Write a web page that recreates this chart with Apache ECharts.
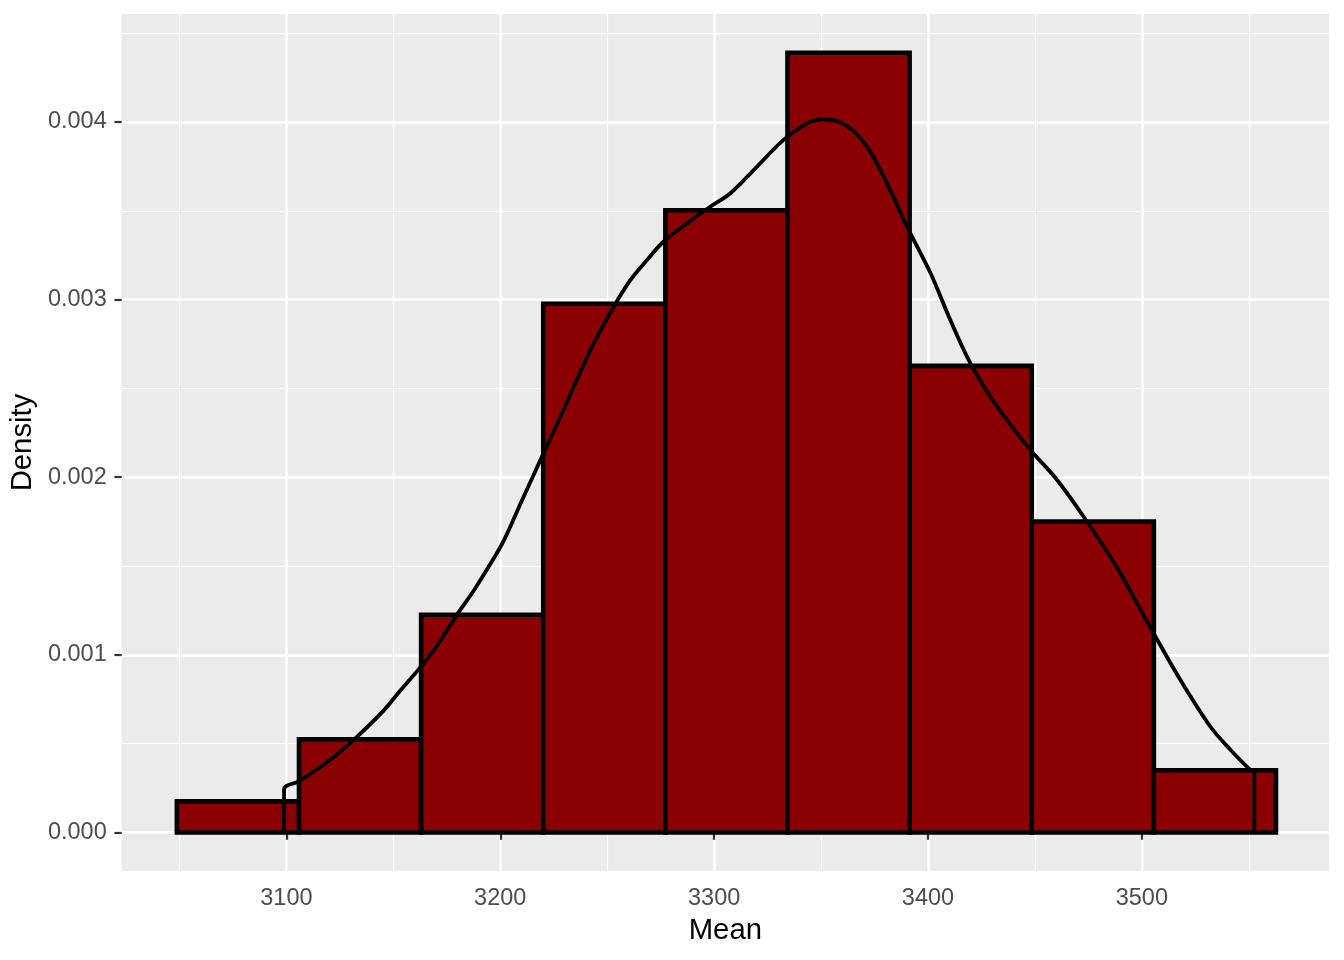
<!DOCTYPE html>
<html>
<head>
<meta charset="utf-8">
<title>Density of Mean</title>
<script src="https://cdn.jsdelivr.net/npm/echarts@6/dist/echarts.min.js"></script>
<style>
    html, body { margin: 0; padding: 0; background: #ffffff; }
    #chart { width: 1344px; height: 960px; }
</style>
</head>
<body>
<div id="chart"></div>
<script>
// histogram bins (edges in data units) and their density heights
const bin_left = [3048.8, 3105.9, 3163.0, 3220.1, 3277.2, 3334.3, 3391.4, 3448.5, 3505.6];
const bin_right = [3105.9, 3163.0, 3220.1, 3277.2, 3334.3, 3391.4, 3448.5, 3505.6, 3562.7];
const bin_density = [0.000175, 0.000525, 0.001226, 0.002977, 0.003503, 0.004390, 0.002627, 0.001751, 0.000350];

// kernel density curve (ends drop to zero)
const curve_x = [3098.9, 3098.9, 3105.9, 3120.7, 3131.6, 3144.9, 3153.4, 3162.8, 3170.6, 3179.1, 3187.7,
    3195.5, 3201.7, 3209.5, 3217.3, 3227.4, 3242.2, 3253.1, 3260.9, 3268.7, 3276.4, 3287.4, 3298.3,
    3307.6, 3320.1, 3332.5, 3343.5, 3351.2, 3355.9, 3363.7, 3371.5, 3379.3, 3390.2, 3401.1, 3410.4,
    3419.8, 3429.1, 3436.9, 3447.8, 3460.3, 3472.7, 3485.2, 3489.9, 3505.4, 3517.9, 3531.9, 3541.3,
    3550.6, 3552.6, 3552.6];
const curve_y = [0, 0.000242, 0.000289, 0.000411, 0.000523, 0.000679, 0.000801, 0.000932, 0.001054, 0.001214, 0.001364,
    0.001514, 0.001645, 0.001852, 0.002058, 0.002321, 0.002717, 0.002961, 0.003111, 0.003224, 0.003327, 0.003430, 0.003524,
    0.003599, 0.003749, 0.003899, 0.003993, 0.004015, 0.004011, 0.003964, 0.003861, 0.003692, 0.003411, 0.003151, 0.002886,
    0.002642, 0.002455, 0.002323, 0.002155, 0.001986, 0.001779, 0.001554, 0.001461, 0.001124, 0.000861, 0.000598, 0.000467,
    0.000354, 0.000345, 0];

// axis ticks
const x_major = [3100, 3200, 3300, 3400, 3500];
const x_minor = [3050, 3150, 3250, 3350, 3450, 3550];
const y_major = [0, 0.001, 0.002, 0.003, 0.004];
const y_minor = [0.0005, 0.0015, 0.0025, 0.0035, 0.0045];

const font = '"Liberation Sans", Arial, sans-serif';

document.addEventListener("DOMContentLoaded", function () {
    let chart = echarts.init(document.getElementById('chart'), null, { renderer: 'canvas' });

    let bars = bin_left.map((l, i) => [l, bin_right[i], bin_density[i]]);
    let curve = curve_x.map((x, i) => [x, curve_y[i]]);

    // minor axes only draw the thin grid lines
    let minor_axis = (values) => ({
        axisLine: { show: false },
        axisTick: { show: false, customValues: values },
        axisLabel: { show: false, customValues: values },
        splitLine: { show: true, lineStyle: { color: '#ffffff', width: 1.2 } },
    });

    let option = {
        animation: false,
        grid: {
            left: 121,
            right: 15,
            top: 14,
            bottom: 89,
            show: true,
            backgroundColor: '#EBEBEB',
            borderWidth: 0,
        },
        xAxis: [
            Object.assign({
                type: 'value',
                min: 3023,
                max: 3587.5,
                position: 'bottom',
            }, minor_axis(x_minor)),
            {
                type: 'value',
                min: 3023,
                max: 3587.5,
                position: 'bottom',
                name: 'Mean',
                nameLocation: 'middle',
                nameGap: 45,
                nameTextStyle: { color: '#000000', fontSize: 29.3, fontFamily: font },
                axisLine: { show: false },
                axisTick: {
                    show: true,
                    length: 7.3,
                    customValues: x_major,
                    lineStyle: { color: '#333333', width: 2.2 },
                },
                axisLabel: {
                    customValues: x_major,
                    margin: 16,
                    color: '#4D4D4D',
                    fontSize: 23.5,
                    fontFamily: font,
                    formatter: function (v) {
                        return String(v);
                    },
                },
                splitLine: { show: true, lineStyle: { color: '#ffffff', width: 2.5 } },
            },
        ],
        yAxis: [
            Object.assign({
                type: 'value',
                min: -0.000217,
                max: 0.004608,
                position: 'left',
            }, minor_axis(y_minor)),
            {
                type: 'value',
                min: -0.000217,
                max: 0.004608,
                position: 'left',
                name: 'Density',
                nameLocation: 'middle',
                nameGap: 74,
                nameRotate: 90,
                nameTextStyle: { color: '#000000', fontSize: 29.3, fontFamily: font },
                axisLine: { show: false },
                axisTick: {
                    show: true,
                    length: 7.3,
                    customValues: y_major,
                    lineStyle: { color: '#333333', width: 2.2 },
                },
                axisLabel: {
                    customValues: y_major,
                    margin: 15,
                    color: '#4D4D4D',
                    fontSize: 23.5,
                    fontFamily: font,
                    formatter: function (v) {
                        return v.toFixed(3);
                    },
                },
                splitLine: { show: true, lineStyle: { color: '#ffffff', width: 2.5 } },
            },
        ],
        series: [
            {
                type: 'custom',
                name: 'histogram',
                xAxisIndex: 1,
                yAxisIndex: 1,
                data: bars,
                encode: { x: [0, 1], y: 2 },
                renderItem: function (params, api) {
                    let p0 = api.coord([api.value(0), 0]);
                    let p1 = api.coord([api.value(1), api.value(2)]);
                    return {
                        type: 'rect',
                        shape: { x: p0[0], y: p1[1], width: p1[0] - p0[0], height: p0[1] - p1[1] },
                        style: { fill: '#8B0000', stroke: '#000000', lineWidth: 4.6 },
                    };
                },
                z: 2,
            },
            {
                type: 'line',
                name: 'density',
                xAxisIndex: 1,
                yAxisIndex: 1,
                data: curve,
                symbol: 'none',
                smooth: 0.35,
                lineStyle: { color: '#000000', width: 3.8 },
                z: 3,
            },
        ],
    };
    chart.setOption(option);
});
</script>
</body>
</html>
